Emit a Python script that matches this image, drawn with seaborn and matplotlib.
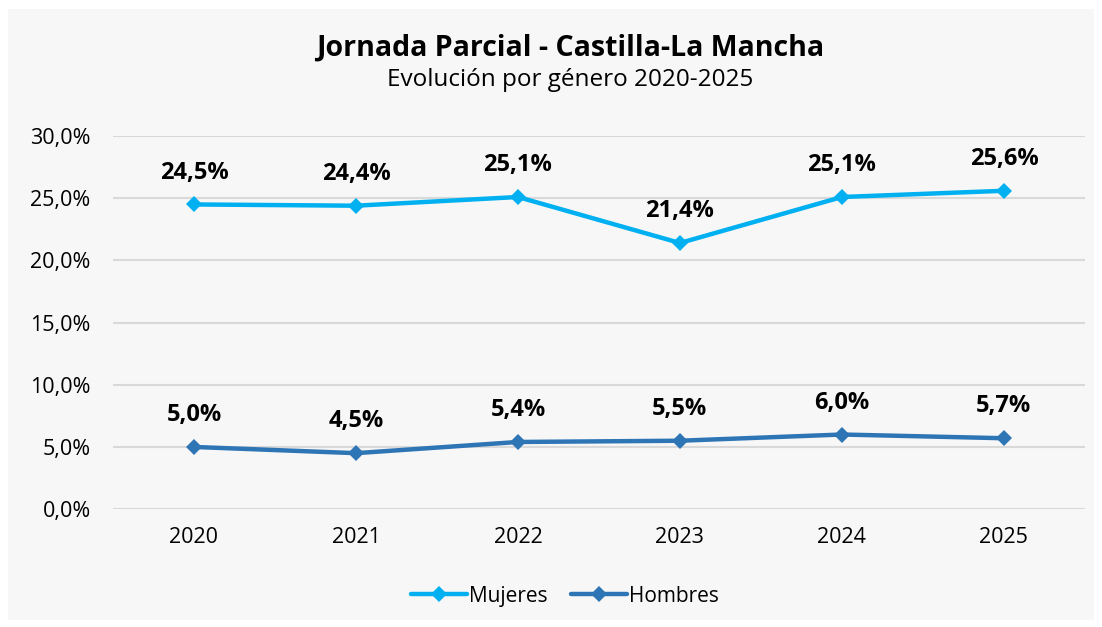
import pandas as pd
import seaborn as sns
import matplotlib.pyplot as plt
from matplotlib.patches import Rectangle

# Chart data
years = ['2020', '2021', '2022', '2023', '2024', '2025']
mujeres = [24.5, 24.4, 25.1, 21.4, 25.1, 25.6]
hombres = [5.0, 4.5, 5.4, 5.5, 6.0, 5.7]
series_names = ['Mujeres', 'Hombres']
colors = ['#00b0f0', '#2e75b6']
y_ticks = [0, 5, 10, 15, 20, 25, 30]

df = pd.DataFrame({
    'year': years * 2,
    'value': mujeres + hombres,
    'serie': ['Mujeres'] * len(years) + ['Hombres'] * len(years),
})

sns.set_style('white')
plt.rcParams['font.family'] = ['Open Sans', 'DejaVu Sans']
plt.rcParams['text.color'] = 'black'

fig = plt.figure(figsize=(11.02, 6.27), dpi=100, facecolor='white')
# light grey chart area with a thin white margin
fig.patches.append(Rectangle((8 / 1102, 7 / 627), 1086 / 1102, 611 / 627,
                             transform=fig.transFigure, facecolor='#f7f7f7',
                             edgecolor='none', zorder=-5))

ax = fig.add_axes([0.1025, 0.188, 0.882, 0.595])
ax.set_facecolor('#f7f7f7')

sns.lineplot(data=df, x='year', y='value', hue='serie', hue_order=series_names,
             palette=colors, marker='D', markersize=8, markeredgewidth=0,
             linewidth=3.2, ax=ax, sort=False)

# data labels above points
for vals in [mujeres, hombres]:
    for i, v in enumerate(vals):
        ax.annotate(f'{v:.1f}%'.replace('.', ','), (i, v), xytext=(0, 23),
                    textcoords='offset points', ha='center', va='center',
                    fontsize=17, fontweight='bold', color='black')

ax.set_xlim(-0.5, 5.5)
ax.set_ylim(0, 30)
ax.set_yticks(y_ticks)
ax.set_yticklabels([f'{t:.1f}%'.replace('.', ',') for t in y_ticks])
ax.grid(axis='y', color='#d9d9d9', linewidth=1.5)
ax.set_axisbelow(True)
for s in ax.spines.values():
    s.set_visible(False)
ax.tick_params(axis='both', length=0, labelsize=15.5, colors='black')
ax.tick_params(axis='x', pad=13)
ax.tick_params(axis='y', pad=16)
ax.set_xlabel('')
ax.set_ylabel('')

ax.legend(loc='upper center', bbox_to_anchor=(0.465, -0.155), ncol=2, frameon=False,
          fontsize=15, handlelength=2.7, columnspacing=1.1, handletextpad=0.1)

fig.text(0.517, 0.923, 'Jornada Parcial - Castilla-La Mancha', ha='center', va='center',
         fontsize=20.5, fontweight='bold', color='black')
fig.text(0.517, 0.872, 'Evolución por género 2020-2025', ha='center', va='center',
         fontsize=17.5, color='black')

fig.savefig('out.png', dpi=100, facecolor=fig.get_facecolor())
